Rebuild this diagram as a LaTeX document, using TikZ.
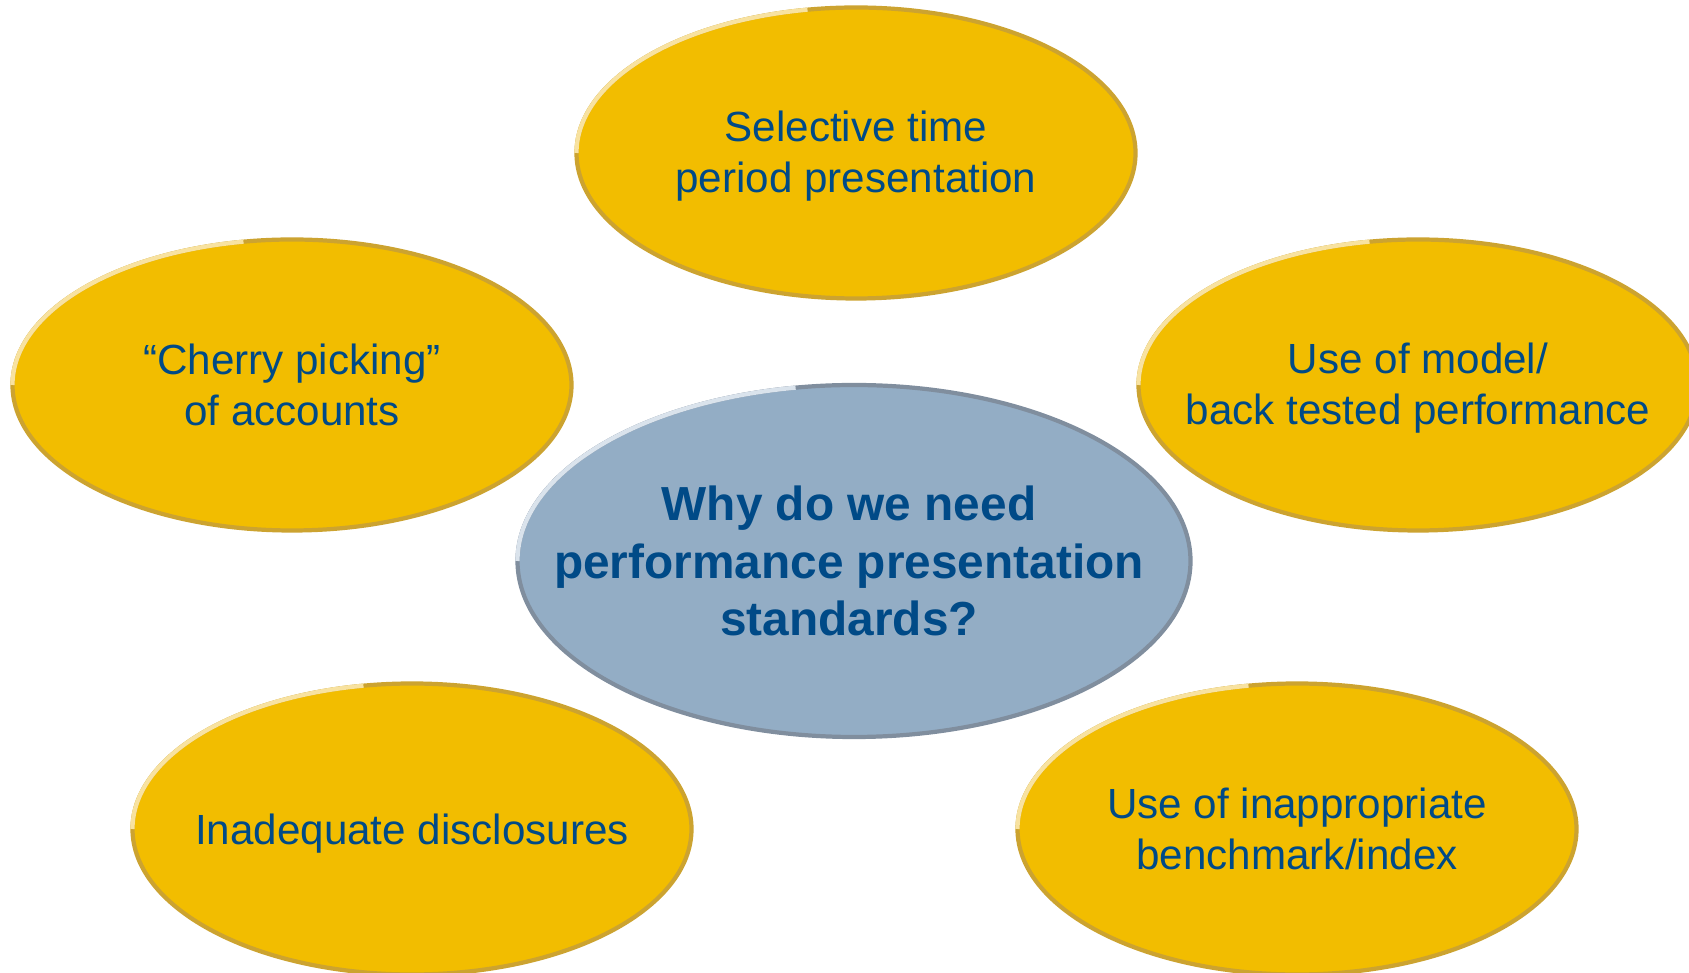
\documentclass[tikz,border=0pt]{standalone}
\usepackage{fontspec}
\setmainfont{Liberation Sans}
\usetikzlibrary{shapes.geometric}

\definecolor{gold}{RGB}{242,189,0}
\definecolor{goldedge}{RGB}{204,163,48}
\definecolor{goldlight}{RGB}{248,226,160}
\definecolor{steel}{RGB}{147,173,197}
\definecolor{steeledge}{RGB}{128,142,158}
\definecolor{steellight}{RGB}{218,227,236}
\definecolor{textblue}{RGB}{0,74,135}

\tikzset{
  bubble/.style={ellipse, fill=gold, draw=goldedge, line width=1.2pt,
    minimum width=5.59cm, minimum height=2.91cm, inner sep=0pt, outer sep=0pt},
  hub/.style={ellipse, fill=steel, draw=steeledge, line width=1.2pt,
    minimum width=6.73cm, minimum height=3.52cm, inner sep=0pt, outer sep=0pt},
  bubbletext/.style={text=textblue, align=center, font=\fontsize{12}{14.4}\selectfont},
  hubtext/.style={text=textblue, align=center, font=\fontsize{13.6}{16.3}\selectfont\bfseries}
}

\begin{document}
\begin{tikzpicture}
  \useasboundingbox (0,0) rectangle (16.89,9.73);
  \clip (0,0) rectangle (16.89,9.73);

    \node[bubble] (period) at (8.56,8.20) {};
    \node[bubble] (cherry) at (2.92,5.88) {};
    \node[bubble] (model) at (14.18,5.88) {};
    \node[bubble] (disclose) at (4.12,1.44) {};
    \node[bubble] (bench) at (12.97,1.44) {};
    % lighter rims on the upper left
    \foreach \n in {period,cherry,model,disclose,bench}
      \draw[goldlight,line width=1.2pt] (\n.west) arc[start angle=180, end angle=100, x radius=2.795cm, y radius=1.455cm];

    \node[hub] (why) at (8.54,4.12) {};
    \draw[steellight,line width=1.2pt] (why.west) arc[start angle=180, end angle=100, x radius=3.365cm, y radius=1.76cm];

    \node[bubbletext] (period-t) at ([yshift=-0.03cm]period) {Selective time\\period presentation};
    \node[bubbletext] (cherry-t) at (cherry) {“Cherry picking”\\of accounts};
    \node[bubbletext] (model-t) at ([yshift=-0.03cm]model) {Use of model/\\back tested performance};
    \node[bubbletext] (disclose-t) at ([yshift=-0.05cm]disclose) {Inadequate disclosures};
    \node[bubbletext] (bench-t) at (bench) {Use of inappropriate\\benchmark/index};
    \node[hubtext] (why-t) at ([xshift=-0.05cm]why) {Why do we need\\performance presentation\\standards?};

  \end{tikzpicture}
\end{document}
